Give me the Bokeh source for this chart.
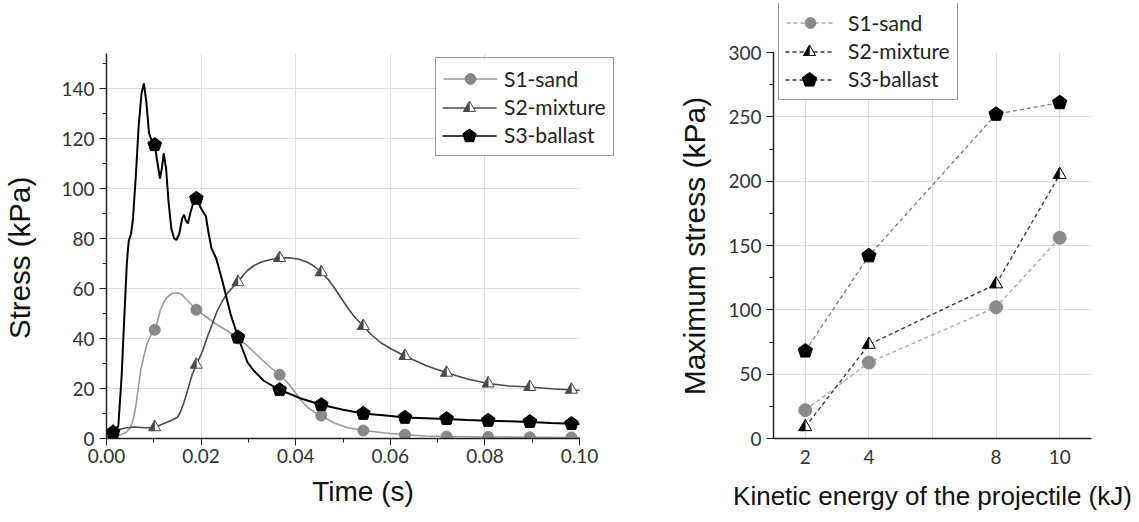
import math
from bokeh.plotting import figure
from bokeh.layouts import row
from bokeh.models import (Range1d, SingleIntervalTicker, FixedTicker, Legend, LegendItem,
                          PrintfTickFormatter)
from bokeh.embed import file_html
from bokeh.resources import INLINE

# ---------------- data: left chart (stress history) ----------------
s1_t = [0.0000, 0.0014, 0.0030, 0.0042, 0.0051, 0.0057, 0.0062, 0.0067, 0.0072, 0.0079,
        0.0086, 0.0094, 0.0102, 0.0108, 0.0114, 0.0121, 0.0128, 0.0138, 0.0150, 0.0160,
        0.0167, 0.0180, 0.0190, 0.0212, 0.0234, 0.0256, 0.0278, 0.0295, 0.0312, 0.0340,
        0.0366, 0.0382, 0.0396, 0.0410, 0.0425, 0.0440, 0.0454, 0.0481, 0.0510, 0.0543,
        0.0590, 0.0631, 0.0675, 0.0719, 0.0807, 0.0895, 0.0983, 0.1000]
s1_v = [0.5, 1.0, 1.5, 2.5, 4.5, 8.0, 13.0, 20.0, 27.0, 33.0,
        38.0, 41.5, 43.5, 47.0, 51.5, 54.5, 56.5, 58.0, 58.3, 57.5,
        56.0, 53.5, 51.5, 48.5, 45.5, 43.0, 40.0, 37.5, 34.5, 29.5,
        25.5, 22.5, 19.2, 15.5, 12.5, 10.5, 9.2, 6.2, 4.3, 3.2,
        2.2, 1.5, 1.0, 0.8, 0.6, 0.5, 0.4, 0.4]

s2_t = [0.0000, 0.0014, 0.0025, 0.0042, 0.0060, 0.0080, 0.0102, 0.0115, 0.0128, 0.0140,
        0.0150, 0.0156, 0.0163, 0.0171, 0.0181, 0.0190, 0.0203, 0.0213, 0.0224, 0.0234,
        0.0245, 0.0255, 0.0267, 0.0278, 0.0290, 0.0298, 0.0312, 0.0326, 0.0345, 0.0366,
        0.0385, 0.0405, 0.0425, 0.0440, 0.0454, 0.0468, 0.0481, 0.0495, 0.0509, 0.0525,
        0.0543, 0.0560, 0.0580, 0.0605, 0.0631, 0.0675, 0.0719, 0.0763, 0.0807, 0.0851,
        0.0895, 0.0940, 0.0983, 0.1000]
s2_v = [2.0, 2.8, 3.5, 4.3, 4.6, 4.3, 4.3, 5.5, 6.5, 7.5,
        8.5, 10.5, 14.0, 19.0, 25.5, 29.5, 35.0, 40.5, 46.0, 51.0,
        55.0, 58.0, 60.5, 62.5, 65.5, 67.2, 69.2, 70.5, 71.5, 72.2,
        72.3, 71.8, 70.5, 68.8, 66.5, 63.8, 60.5, 56.5, 52.5, 48.5,
        45.0, 41.5, 38.3, 35.5, 33.0, 29.2, 26.3, 23.8, 22.0, 21.0,
        20.6, 19.9, 19.4, 19.2]

s3_t = [0.0000, 0.0014, 0.0025, 0.0032, 0.0038, 0.0043, 0.0047, 0.0052, 0.0056, 0.0062,
        0.0068, 0.0074, 0.0079, 0.0084, 0.0090, 0.0096, 0.0102, 0.0108, 0.0113, 0.0117,
        0.0121, 0.0126, 0.0131, 0.0137, 0.0143, 0.0148, 0.0154, 0.0160, 0.0164, 0.0168,
        0.0172, 0.0177, 0.0183, 0.0190, 0.0200, 0.0210, 0.0216, 0.0222, 0.0232, 0.0245,
        0.0262, 0.0278, 0.0298, 0.0312, 0.0333, 0.0366, 0.0411, 0.0454, 0.0500, 0.0543,
        0.0590, 0.0631, 0.0675, 0.0719, 0.0763, 0.0807, 0.0851, 0.0895, 0.0940, 0.0983,
        0.1000]
s3_v = [1.5, 2.5, 5.0, 25.0, 50.0, 70.0, 79.0, 82.0, 88.0, 105.0,
        125.0, 138.0, 142.0, 135.0, 122.0, 119.0, 117.5, 110.0, 104.0, 108.0,
        114.0, 108.0, 95.0, 84.0, 80.0, 79.5, 82.0, 88.0, 89.5, 87.0,
        86.0, 90.0, 94.0, 96.0, 92.0, 89.0, 82.0, 76.0, 72.0, 63.0,
        50.0, 40.5, 30.5, 27.0, 23.0, 19.5, 16.0, 13.5, 11.5, 10.0,
        9.2, 8.4, 8.1, 7.8, 7.4, 7.1, 6.9, 6.6, 6.2, 5.9,
        5.8]

marker_t = [0.0014, 0.0102, 0.0190, 0.0278, 0.0366, 0.0454, 0.0543, 0.0631,
            0.0719, 0.0807, 0.0895, 0.0983]
s1_marker = [1.0, 43.5, 51.5, 40.0, 25.5, 9.2, 3.2, 1.5, 0.8, 0.6, 0.5, 0.4]
s2_marker = [2.8, 4.5, 29.5, 62.5, 72.2, 66.5, 45.0, 33.0, 26.3, 22.0, 20.6, 19.5]
s3_marker = [2.5, 117.5, 96.0, 40.5, 19.5, 13.5, 10.0, 8.4, 7.9, 7.2, 6.7, 5.9]

time_ticks_grid = [0.02, 0.04, 0.06, 0.08]
stress_ticks_grid = [20, 40, 60, 80, 100, 120, 140]

# ---------------- data: right chart (maximum stress) ----------------
energy = [2, 4, 8, 10]
energy_ticks = [2, 4, 8, 10]
energy_grid = [2, 4, 6, 8, 10]
max_s1 = [22, 59, 102, 156]
max_s2 = [9, 73, 120, 205]
max_s3 = [68, 142, 252, 261]
max_grid = [50, 100, 150, 200, 250]

series_labels = ["S1-sand", "S2-mixture", "S3-ballast"]

TITLE_FONT = "Liberation Sans"
TICK_FONT = "Lato"
LEGEND_FONT_SIZE = "21px"
LEGEND_TEXT_W = 102  # approx. width of the longest legend label at that size
NBSP = "\u00a0"      # trailing padding keeps the vertical titles centred on the visible axis

# common vertical geometry (frames extended upward so legends fit inside them)
TOP, BOTTOM, H = 3, 84, 522
FH = H - TOP - BOTTOM


class Frame:
    """pixel <-> data helper for a figure whose frame geometry is fixed"""
    def __init__(self, left, top, fw, fh, x0, x1, y0, y1):
        self.left, self.top, self.fw, self.fh = left, top, fw, fh
        self.x0, self.x1, self.y0, self.y1 = x0, x1, y0, y1
        self.kx = fw / (x1 - x0)
        self.ky = fh / (y1 - y0)

    def to_data(self, sx, sy):
        return self.x0 + (sx - self.left) / self.kx, self.y0 + (self.top + self.fh - sy) / self.ky


def tri_shapes(xs, ys, size, fr, half):
    r = size / 2.0
    h = r * math.sqrt(3)
    px, py = [], []
    for x, y in zip(xs, ys):
        if half:
            px.append([x, x - r / fr.kx, x])
            py.append([y + (2 * h / 3) / fr.ky, y - (h / 3) / fr.ky, y - (h / 3) / fr.ky])
        else:
            px.append([x - r / fr.kx, x + r / fr.kx, x])
            py.append([y - (h / 3) / fr.ky, y - (h / 3) / fr.ky, y + (2 * h / 3) / fr.ky])
    return px, py


def pent_shapes(xs, ys, rad, fr):
    px, py = [], []
    for x, y in zip(xs, ys):
        px.append([x + rad * math.cos(math.radians(90 + 72 * k)) / fr.kx for k in range(5)])
        py.append([y + rad * math.sin(math.radians(90 + 72 * k)) / fr.ky for k in range(5)])
    return px, py


def style_axes(p, xlabel_size, ylabel_size, tick_size="19px"):
    for ax in (p.xaxis[0], p.yaxis[0]):
        ax.axis_line_color = "#222222"
        ax.axis_line_width = 1.5
        ax.major_tick_line_color = "#222222"
        ax.minor_tick_line_color = "#222222"
        ax.major_tick_out = 7
        ax.major_tick_in = 0
        ax.minor_tick_out = 4
        ax.minor_tick_in = 0
        ax.major_label_text_font = TICK_FONT
        ax.major_label_text_font_size = tick_size
        ax.major_label_text_color = "#333333"
        ax.axis_label_text_font = TITLE_FONT
        ax.axis_label_text_font_style = "normal"
        ax.axis_label_text_color = "#111111"
    p.xaxis.axis_label_text_font_size = xlabel_size
    p.yaxis.axis_label_text_font_size = ylabel_size
    p.xgrid.grid_line_color = "#dedede"
    p.ygrid.grid_line_color = "#dedede"


def set_cross_bounds(grid, bounds):
    try:
        grid.cross_bounds = bounds
    except Exception:
        pass


def legend_geometry(fr, loc, pad, gw, gh, sp, standoff, n):
    Hl = 2 * pad + n * gh + (n - 1) * sp
    Wl = 2 * pad + gw + standoff + LEGEND_TEXT_W
    left = fr.left + loc[0]
    top = fr.top + fr.fh - loc[1] - Hl
    rows = [(left + pad, left + pad + gw, top + pad + i * (gh + sp) + gh / 2.0) for i in range(n)]
    return (left, top, Wl, Hl), rows


def legend_backdrop(p, fr, box):
    left, top, Wl, Hl = box
    x0, y0 = fr.to_data(left + 1, top + Hl - 1)
    x1, y1 = fr.to_data(left + Wl - 1, top + 1)
    p.quad(left=[x0], right=[x1], bottom=[y0], top=[y1], fill_color="white", line_color=None)


def legend_symbols(p, fr, rows, tri_color, tri_size, pent_rad, line_colors, dash):
    for i in (1, 2):
        gx0, gx1, cy = rows[i]
        ax, ay = fr.to_data(gx0, cy)
        bx, by = fr.to_data(gx1, cy)
        p.segment(x0=[ax], y0=[ay], x1=[bx], y1=[by], line_color=line_colors[i],
                  line_width=1.6 if dash == "solid" else 1.3, line_dash=dash)
    gx0, gx1, cy = rows[1]
    dx, dy = fr.to_data((gx0 + gx1) / 2.0, cy)
    tx, ty = tri_shapes([dx], [dy], tri_size, fr, False)
    p.patches(tx, ty, fill_color="white", line_color=tri_color, line_width=1)
    tx, ty = tri_shapes([dx], [dy], tri_size, fr, True)
    p.patches(tx, ty, fill_color=tri_color, line_color=tri_color, line_width=0.5)
    gx0, gx1, cy = rows[2]
    dx, dy = fr.to_data((gx0 + gx1) / 2.0, cy)
    qx, qy = pent_shapes([dx], [dy], pent_rad, fr)
    p.patches(qx, qy, fill_color="black", line_color="black", line_width=1)


def make_legend(items, loc, pad, gw, gh, sp, standoff):
    return Legend(items=items, location=loc, padding=pad, glyph_width=gw, glyph_height=gh,
                  label_height=gh, spacing=sp, label_standoff=standoff, margin=0,
                  border_line_color="#333333", border_line_width=1,
                  background_fill_alpha=0,
                  label_text_font=TICK_FONT, label_text_font_size=LEGEND_FONT_SIZE,
                  label_text_color="#222222")


# ======================= LEFT FIGURE =======================
# visible axes: time 0..0.10 over 473 px, stress 0..154 over 385 px
L_LEFT, L_W = 106, 660
L_KX = 473 / 0.1
L_KY = 385 / 154.0
L_FW = 513
fr1 = Frame(L_LEFT, TOP, L_FW, FH, 0.0, L_FW / L_KX, 0.0, FH / L_KY)

p1 = figure(frame_width=L_FW, frame_height=FH,
            min_border_left=L_LEFT, min_border_right=L_W - L_LEFT - L_FW,
            min_border_top=TOP, min_border_bottom=BOTTOM,
            x_range=Range1d(fr1.x0, fr1.x1), y_range=Range1d(fr1.y0, fr1.y1),
            output_backend="svg", toolbar_location=None,
            background_fill_color="white", border_fill_color="white", outline_line_color=None)
style_axes(p1, "28px", "29.5px")
p1.xaxis.ticker = SingleIntervalTicker(interval=0.02, num_minor_ticks=2)
p1.yaxis.ticker = SingleIntervalTicker(interval=20, num_minor_ticks=2)
p1.xaxis.bounds = (0, 0.1)
p1.yaxis.bounds = (0, 154)
p1.xgrid.ticker = FixedTicker(ticks=time_ticks_grid)
p1.ygrid.ticker = FixedTicker(ticks=stress_ticks_grid)
set_cross_bounds(p1.ygrid[0], (0, 0.1))
set_cross_bounds(p1.xgrid[0], (0, 154))
p1.xaxis.formatter = PrintfTickFormatter(format="%.2f")
p1.xaxis.axis_label = "Time (s)"
p1.yaxis.axis_label = "Stress (kPa)" + NBSP * 9
p1.xaxis.major_label_standoff = 3
p1.xaxis.axis_label_standoff = 10
p1.yaxis.major_label_standoff = 5
p1.yaxis.axis_label_standoff = 22

c1 = "#9a9a9a"
c2 = "#4a4a4a"
c3 = "#000000"

LPAD, LGW, LGH, LSP, LSTD = 7, 54, 27, 1, 7
loc1 = (329, 282)
box1, rows1 = legend_geometry(fr1, loc1, LPAD, LGW, LGH, LSP, LSTD, 3)
legend_backdrop(p1, fr1, box1)

l1 = p1.line(s1_t, s1_v, line_color=c1, line_width=1.6)
l2 = p1.line(s2_t, s2_v, line_color=c2, line_width=1.6)
l3 = p1.line(s3_t, s3_v, line_color=c3, line_width=2)

m1 = p1.scatter(marker_t, s1_marker, marker="circle", size=11, fill_color="#888888", line_color="#888888")
tx, ty = tri_shapes(marker_t, s2_marker, 12, fr1, False)
p1.patches(tx, ty, fill_color="white", line_color=c2, line_width=1)
tx, ty = tri_shapes(marker_t, s2_marker, 12, fr1, True)
p1.patches(tx, ty, fill_color=c2, line_color=c2, line_width=0.5)
qx, qy = pent_shapes(marker_t, s3_marker, 7.2, fr1)
p1.patches(qx, qy, fill_color="black", line_color="black", line_width=1)

legend_symbols(p1, fr1, rows1, c2, 12, 7, [c1, c2, c3], "solid")
ghost2 = p1.line(s2_t, s2_v, line_alpha=0)
ghost3 = p1.line(s3_t, s3_v, line_alpha=0)
leg1 = make_legend([LegendItem(label=series_labels[0], renderers=[l1, m1]),
                    LegendItem(label=series_labels[1], renderers=[ghost2]),
                    LegendItem(label=series_labels[2], renderers=[ghost3])],
                   loc1, LPAD, LGW, LGH, LSP, LSTD)
p1.add_layout(leg1, "center")

# ======================= RIGHT FIGURE =======================
# visible axes: energy 1..11 over 318 px, stress 0..300 over 386 px
R_LEFT, R_FW, R_W = 113, 318, 479
R_KY = 386 / 300.0
fr2 = Frame(R_LEFT, TOP, R_FW, FH, 1.0, 11.0, 0.0, FH / R_KY)

p2 = figure(frame_width=R_FW, frame_height=FH,
            min_border_left=R_LEFT, min_border_right=R_W - R_LEFT - R_FW,
            min_border_top=TOP, min_border_bottom=BOTTOM,
            x_range=Range1d(fr2.x0, fr2.x1), y_range=Range1d(fr2.y0, fr2.y1),
            output_backend="svg", toolbar_location=None,
            background_fill_color="white", border_fill_color="white", outline_line_color=None)
style_axes(p2, "26px", "30px")
p2.xaxis.ticker = FixedTicker(ticks=energy_ticks)
p2.xgrid.ticker = FixedTicker(ticks=energy_grid)
set_cross_bounds(p2.xgrid[0], (0, 300))
p2.yaxis.ticker = SingleIntervalTicker(interval=50, num_minor_ticks=2)
p2.yaxis.bounds = (0, 300)
p2.ygrid.ticker = FixedTicker(ticks=max_grid)
p2.xaxis.major_tick_line_color = None
p2.xaxis.minor_tick_line_color = None
p2.xaxis.axis_label = "Kinetic energy of the projectile (kJ)"
p2.yaxis.axis_label = "Maximum stress (kPa)" + NBSP * 6
p2.xaxis.major_label_standoff = 4
p2.xaxis.axis_label_standoff = 14
p2.yaxis.major_label_standoff = 5
p2.yaxis.axis_label_standoff = 14

rc1, rc2, rc3 = "#a8a8a8", "#333333", "#7a7a7a"
RPAD, RGW, RGH, RSP, RSTD = 7, 48, 27, 1, 14
loc2 = (5, 338)
box2, rows2 = legend_geometry(fr2, loc2, RPAD, RGW, RGH, RSP, RSTD, 3)
legend_backdrop(p2, fr2, box2)

rl1 = p2.line(energy, max_s1, line_color=rc1, line_width=1.3, line_dash="4 3")
rl2 = p2.line(energy, max_s2, line_color=rc2, line_width=1.3, line_dash="4 3")
rl3 = p2.line(energy, max_s3, line_color=rc3, line_width=1.3, line_dash="4 3")

rm1 = p2.scatter(energy, max_s1, marker="circle", size=13, fill_color="#8c8c8c", line_color="#8c8c8c")
tx, ty = tri_shapes(energy, max_s2, 13, fr2, False)
p2.patches(tx, ty, fill_color="white", line_color="black", line_width=1)
tx, ty = tri_shapes(energy, max_s2, 13, fr2, True)
p2.patches(tx, ty, fill_color="black", line_color="black", line_width=0.5)
qx, qy = pent_shapes(energy, max_s3, 7.5, fr2)
p2.patches(qx, qy, fill_color="black", line_color="black", line_width=1)

legend_symbols(p2, fr2, rows2, "black", 12, 7.5, [rc1, rc2, "#333333"], "4 3")
rghost2 = p2.line(energy, max_s2, line_alpha=0)
rghost3 = p2.line(energy, max_s3, line_alpha=0)
leg2 = make_legend([LegendItem(label=series_labels[0], renderers=[rl1, rm1]),
                    LegendItem(label=series_labels[1], renderers=[rghost2]),
                    LegendItem(label=series_labels[2], renderers=[rghost3])],
                   loc2, RPAD, RGW, RGH, RSP, RSTD)
p2.add_layout(leg2, "center")

layout = row(p1, p2)
open("out.html", "w").write(file_html(layout, INLINE))
